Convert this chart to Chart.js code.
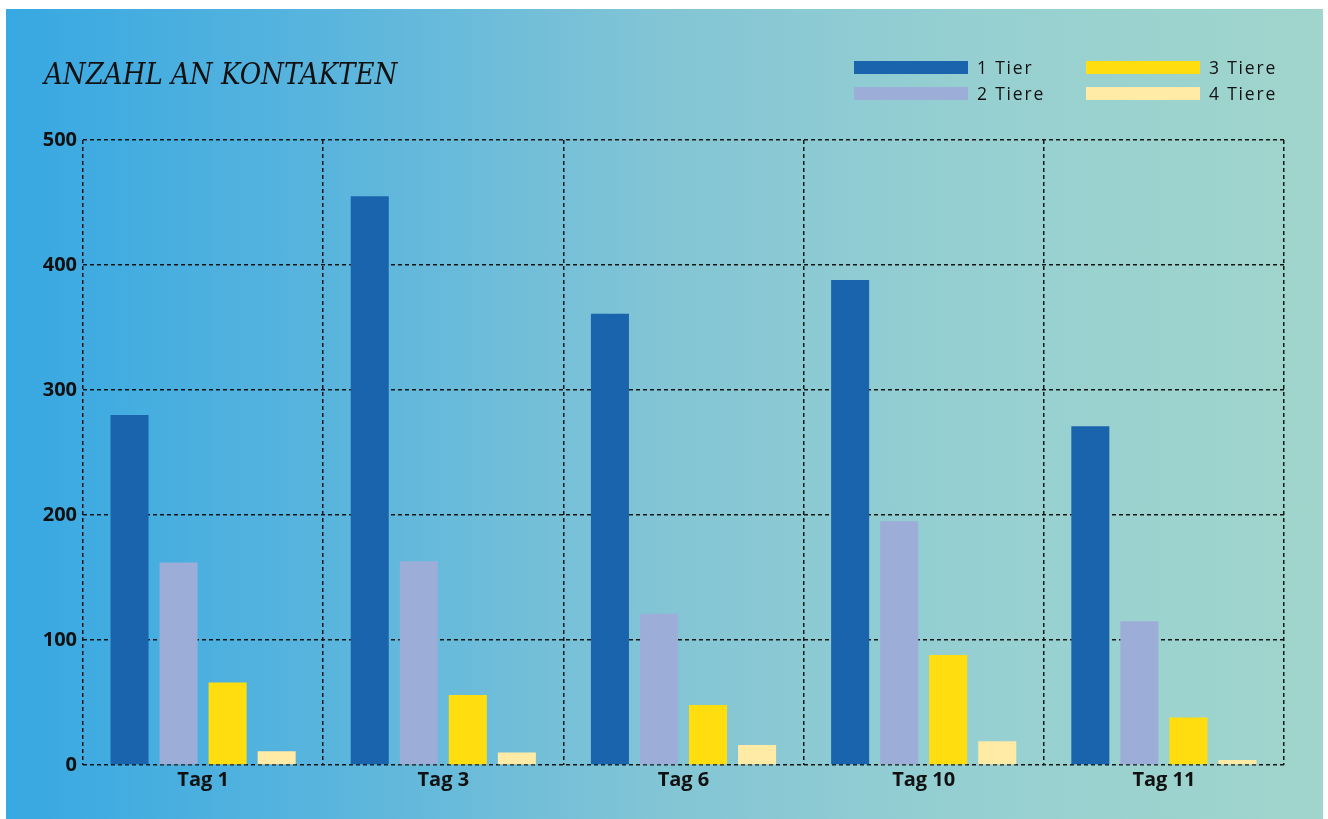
<!DOCTYPE html>
<html lang="de">
<head>
<meta charset="utf-8">
<title>Anzahl an Kontakten</title>
<script src="https://cdn.jsdelivr.net/npm/chart.js@4.4.1/dist/chart.umd.min.js"></script>
<style>
    html, body { margin: 0; padding: 0; background: #fff; }
    #panel {
        position: absolute;
        left: 6px; top: 9px;
        width: 1317px; height: 810px;
        background: linear-gradient(to right, #37a8e2 0%, #5ab5dd 25%, #83c5d5 50%, #97d0d1 75%, #a0d5cc 100%);
    }
    #chartTitle {
        position: absolute;
        left: 38px; top: 48px;
        margin: 0;
        font-family: "DejaVu Serif Condensed", "DejaVu Serif", serif;
        font-stretch: condensed;
        font-style: italic;
        font-weight: normal;
        font-size: 29px;
        color: #111;
        white-space: nowrap;
    }
    #legend {
        position: absolute;
        left: 848px; top: 45px;
        display: grid;
        grid-template-columns: 232px auto;
        grid-auto-flow: column;
        grid-template-rows: 26px 26px;
        font-family: "Open Sans", sans-serif;
        font-size: 17.5px;
        letter-spacing: 1.8px;
        color: #111;
    }
    .item { display: flex; align-items: center; white-space: nowrap; }
    .swatch { display: inline-block; width: 114px; height: 13px; margin-right: 9px; }
    #chartWrap { position: absolute; left: 0; top: 0; width: 1317px; height: 810px; }
</style>
</head>
<body>
<div id="panel">
    <div id="chartWrap"><canvas id="contactsChart"></canvas></div>
    <h1 id="chartTitle">ANZAHL AN KONTAKTEN</h1>
    <div id="legend"></div>
</div>
<script>
// Contacts per day, split by number of animals
const days = ['Tag 1', 'Tag 3', 'Tag 6', 'Tag 10', 'Tag 11'];
const seriesNames = ['1 Tier', '2 Tiere', '3 Tiere', '4 Tiere'];
const oneAnimal = [280, 455, 361, 388, 271];
const twoAnimals = [162, 163, 121, 195, 115];
const threeAnimals = [66, 56, 48, 88, 38];
const fourAnimals = [11, 10, 16, 19, 4];
const yTicks = [0, 100, 200, 300, 400, 500];

const seriesColors = ['#1a64ae', '#9cadd8', '#ffdd0f', '#ffeba5'];
const seriesValues = [oneAnimal, twoAnimals, threeAnimals, fourAnimals];

const gridDash = [4, 3];
const gridColor = '#161616';

const datasets = seriesNames.map((name, i) => ({
    label: name,
    data: seriesValues[i],
    backgroundColor: seriesColors[i],
    borderWidth: 0,
    categoryPercentage: 196 / 240,
    barPercentage: 38 / 49
}));

// legend built from the same datasets, two columns
const legendEl = document.getElementById('legend');
datasets.forEach(ds => {
    const item = document.createElement('div');
    item.className = 'item';
    const sw = document.createElement('span');
    sw.className = 'swatch';
    sw.style.background = ds.backgroundColor;
    item.appendChild(sw);
    item.appendChild(document.createTextNode(ds.label));
    legendEl.appendChild(item);
});

// border lines are solid in Chart.js, so hide them and let the
// dashed grid lines at the edges close the plot frame
const ctx = document.getElementById('contactsChart').getContext('2d');
new Chart(ctx, {
    type: 'bar',
    data: { labels: days, datasets: datasets },
    options: {
        responsive: true,
        maintainAspectRatio: false,
        animation: false,
        layout: { padding: { top: 131, right: 39, bottom: 0, left: 0 } },
        plugins: {
            legend: { display: false },
            title: { display: false },
            tooltip: { enabled: false }
        },
        scales: {
            x: {
                grid: {
                    color: gridColor,
                    lineWidth: 1.5,
                    drawTicks: false,
                    offset: true
                },
                border: { display: false, dash: gridDash },
                ticks: {
                    color: '#111',
                    padding: 3,
                    font: { family: 'Open Sans', weight: 'bold', size: 20 }
                },
                afterFit: (scale) => { scale.height = 54; }
            },
            y: {
                min: 0,
                max: 500,
                afterBuildTicks: (scale) => {
                    scale.ticks = yTicks.map(v => ({ value: v }));
                },
                grid: {
                    color: gridColor,
                    lineWidth: 1.5,
                    drawTicks: false
                },
                border: { display: false, dash: gridDash },
                ticks: {
                    color: '#111',
                    padding: 6,
                    font: { family: 'Open Sans', weight: 'bold', size: 20 }
                },
                afterFit: (scale) => { scale.width = 77; }
            }
        }
    }
});
</script>
</body>
</html>
